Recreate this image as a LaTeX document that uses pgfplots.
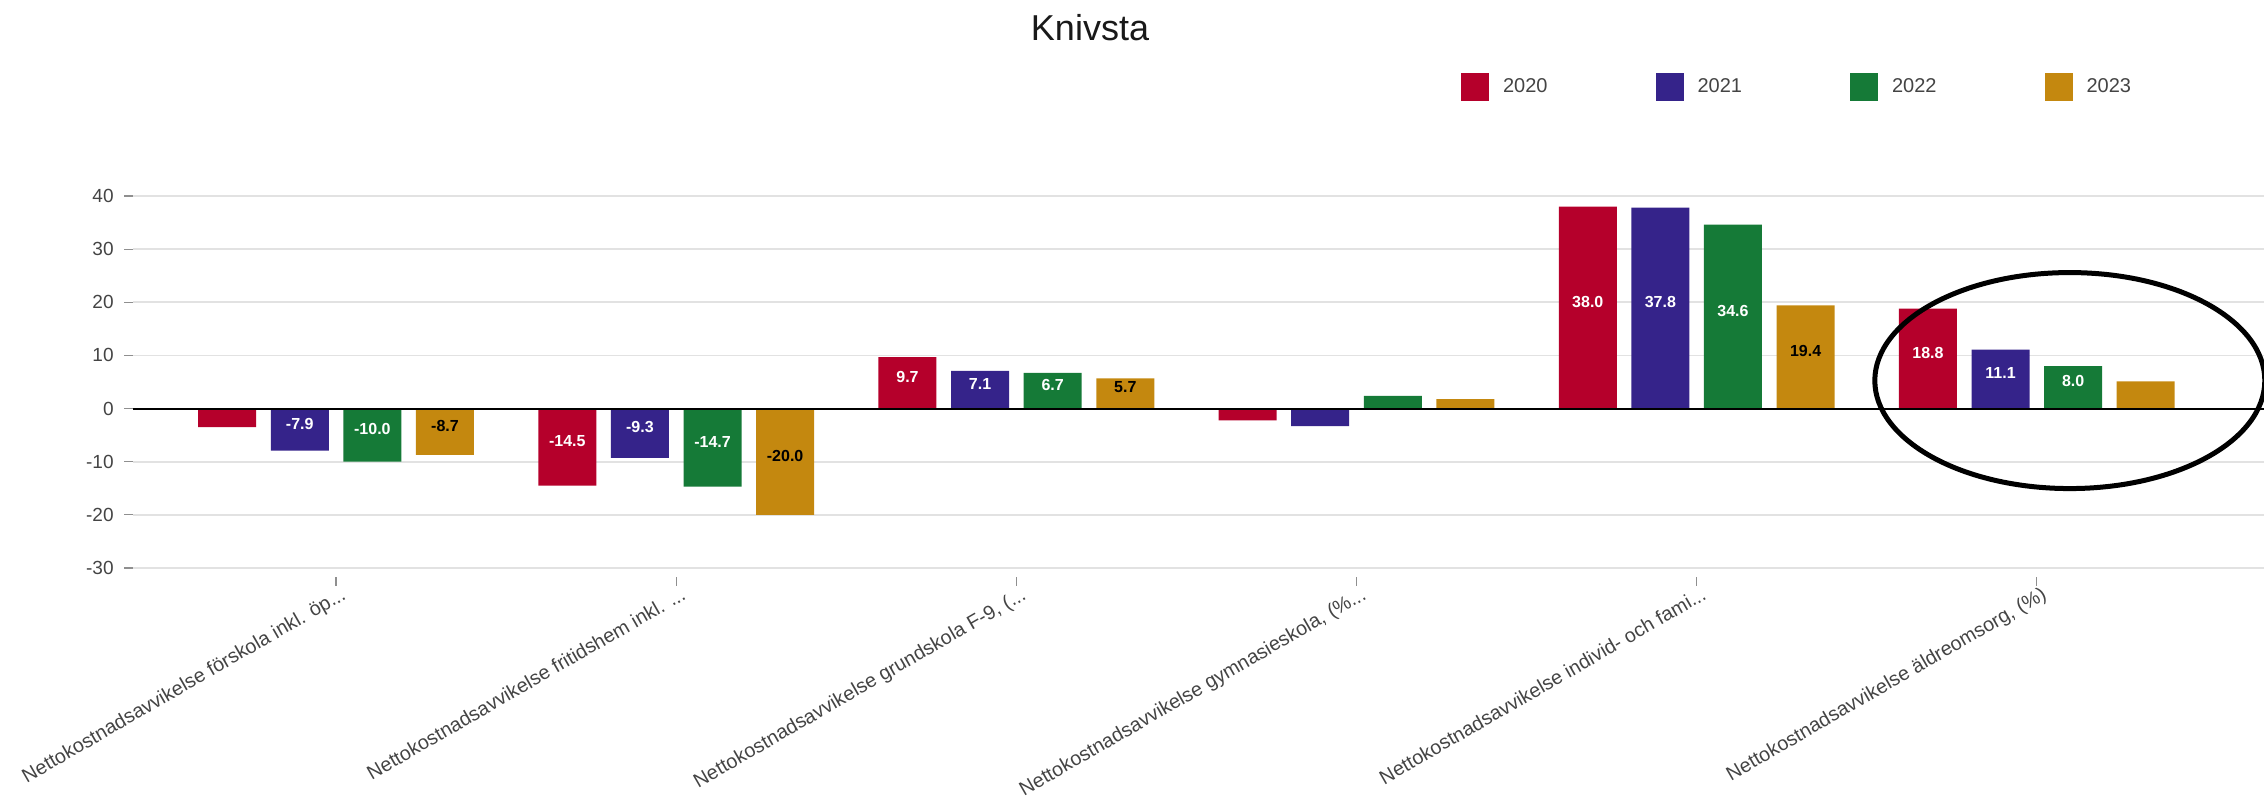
\documentclass[border=0pt]{standalone}
\usepackage{pgfplots}
\pgfplotsset{compat=1.18}
\usepackage{fontspec}
\setmainfont{Liberation Sans}
\definecolor{cRed}{HTML}{B5002B}
\definecolor{cBlue}{HTML}{35238A}
\definecolor{cGreen}{HTML}{157A37}
\definecolor{cGold}{HTML}{C4880F}
\definecolor{gridc}{HTML}{E2E2E2}
\definecolor{txt}{HTML}{444444}
\newcommand{\dd}{..{}.}
\pgfplotsset{sqlegend/.style={legend image code/.code={\fill[##1] (0pt,-7pt) rectangle (14pt,7pt);}}}
\begin{document}
\begin{tikzpicture}
\begin{axis}[
  at={(66.5pt,114pt)}, anchor=south west,
  scale only axis, width=1065.5pt, height=186pt,
  xmin=-0.597, xmax=5.668, ymin=-30, ymax=40,
  ytick={-30,-20,-10,0,10,20,30,40},
  xtick={0,1,2,3,4,5},
  xticklabels={{Nettokostnadsavvikelse förskola inkl. öp\dd},
               {Nettokostnadsavvikelse fritidshem inkl. \dd},
               {Nettokostnadsavvikelse grundskola F-9, (\dd},
               {Nettokostnadsavvikelse gymnasieskola, (\%\dd},
               {Nettokostnadsavvikelse individ- och fami\dd},
               {Nettokostnadsavvikelse äldreomsorg, (\%)}},
  ybar=7.3pt, bar width=29pt,
  axis line style={draw=none},
  ymajorgrids, grid style={gridc, line width=0.8pt},
  tick pos=left,
  tick align=outside, major tick length=4.5pt,
  tick style={txt!60, line width=0.6pt},
  xtick style={yshift=-4.5pt},
  /pgf/number format/assume math mode=true,
  yticklabel style={font=\fontsize{9.5}{11}\selectfont, text=txt, inner sep=0pt, xshift=-5pt},
  xticklabel style={font=\fontsize{9.9}{11}\selectfont, text=txt, rotate=30, anchor=base east, inner sep=0pt, yshift=-12pt, xshift=-0.5pt},
  point meta=explicit symbolic,
  nodes near coords,
  visualization depends on={rawy \as \rawy},
  nodes near coords style={anchor=center, font=\bfseries\fontsize{8}{9}\selectfont, shift={(axis direction cs:0,{-0.5*\rawy})}, yshift=3pt},
  legend style={at={(0.6232,1.293)}, anchor=west, draw=none, fill=none, legend columns=4,
    inner sep=0pt, outer sep=0pt, font=\fontsize{10}{12}\selectfont, text=txt,
    /tikz/every odd column/.append style={column sep=7pt},
    /tikz/every even column/.append style={column sep=54pt},
    nodes={inner sep=0pt}},
  clip=false,
]
\addplot[fill=cRed, draw=none, every node near coord/.append style={text=white}, sqlegend]
  coordinates {(0,-3.5) [] (1,-14.5) [-14.5] (2,9.7) [9.7] (3,-2.2) [] (4,38.0) [38.0] (5,18.8) [18.8]};
\addplot[fill=cBlue, draw=none, every node near coord/.append style={text=white}, sqlegend]
  coordinates {(0,-7.9) [-7.9] (1,-9.3) [-9.3] (2,7.1) [7.1] (3,-3.3) [] (4,37.8) [37.8] (5,11.1) [11.1]};
\addplot[fill=cGreen, draw=none, every node near coord/.append style={text=white}, sqlegend]
  coordinates {(0,-10.0) [-10.0] (1,-14.7) [-14.7] (2,6.7) [6.7] (3,2.4) [] (4,34.6) [34.6] (5,8.0) [8.0]};
\addplot[fill=cGold, draw=none, every node near coord/.append style={text=black}, sqlegend]
  coordinates {(0,-8.7) [-8.7] (1,-20.0) [-20.0] (2,5.7) [5.7] (3,1.8) [] (4,19.4) [19.4] (5,5.1) []};
\legend{2020,2021,2022,2023}
\draw[black, line width=1pt] (axis cs:-0.597,0) -- (axis cs:5.668,0);
\draw[black, line width=2.5pt] (axis cs:5.097,5.27) ellipse [x radius=97.5pt, y radius=54pt];
\end{axis}
\node[font=\fontsize{18}{22}\selectfont, text=black!90] at (545pt,384pt) {Knivsta};
\pgfresetboundingbox
\path[use as bounding box] (0,0) rectangle (1132pt,398pt);
\end{tikzpicture}
\end{document}
